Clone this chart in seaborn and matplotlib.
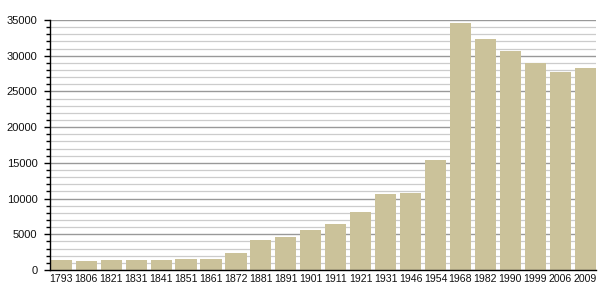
import matplotlib
matplotlib.use("Agg")
import matplotlib.pyplot as plt
import seaborn as sns
import pandas as pd
from matplotlib.ticker import MultipleLocator

years = ["1793", "1806", "1821", "1831", "1841", "1851", "1861", "1872", "1881", "1891",
         "1901", "1911", "1921", "1931", "1946", "1954", "1968", "1982", "1990", "1999",
         "2006", "2009"]
population = [1400, 1290, 1400, 1400, 1400, 1540, 1550, 2340, 4200, 4620,
              5600, 6440, 8120, 10640, 10820, 15400, 34620, 32340, 30660, 28940,
              27760, 28280]

df = pd.DataFrame({"year": years, "population": population})

sns.set_style("white")
plt.rcParams["font.family"] = ["Liberation Sans", "DejaVu Sans"]

fig = plt.figure(figsize=(6.05, 3.0), dpi=100)
ax = fig.add_axes([50 / 605, 30 / 300, 546 / 605, 250 / 300])

bw = 0.85
sns.barplot(data=df, x="year", y="population", color="#cbc29a", saturation=1,
            width=bw, ax=ax, zorder=3, linewidth=0)

ax.set_ylim(0, 35000)
ax.set_xlim(-bw / 2 - 0.03, len(years) - 1 + bw / 2 + 0.01)
ax.yaxis.set_major_locator(MultipleLocator(5000))
ax.yaxis.set_minor_locator(MultipleLocator(1000))
ax.grid(which="major", axis="y", color="#999999", linewidth=1.0, zorder=0)
ax.grid(which="minor", axis="y", color="#cccccc", linewidth=0.9, zorder=0)
ax.set_axisbelow(True)

for s in ["top", "right"]:
    ax.spines[s].set_visible(False)
for s in ["left", "bottom"]:
    ax.spines[s].set_color("black")
    ax.spines[s].set_linewidth(1.0)
    ax.spines[s].set_zorder(5)

ax.tick_params(axis="y", which="major", direction="out", length=4, width=1,
               color="black", labelsize=8, pad=5, left=True, labelcolor="#111111")
ax.tick_params(axis="y", which="minor", direction="out", length=3, width=1,
               color="black", left=True)
ax.tick_params(axis="x", length=0, labelsize=7.6, pad=3, labelcolor="#111111")
ax.set_xlabel("")
ax.set_ylabel("")

fig.savefig("out.png", dpi=100)
